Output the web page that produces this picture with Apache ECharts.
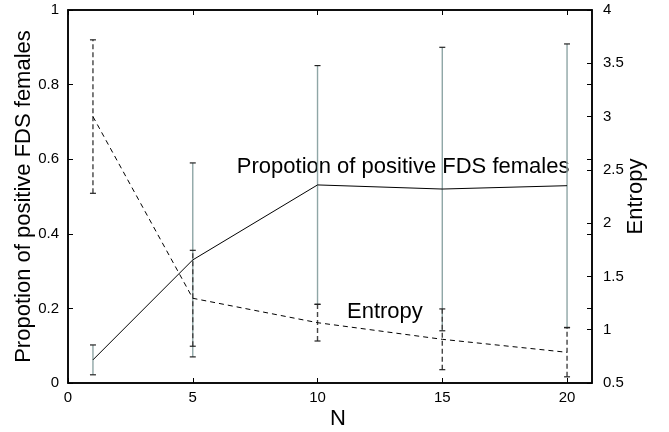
<!DOCTYPE html>
<html><head><meta charset="utf-8">
<script src="https://cdn.jsdelivr.net/npm/echarts@6/dist/echarts.min.js"></script>
<style>html,body{margin:0;padding:0;background:#fff}#c{width:669px;height:432px}</style>
</head><body><div id="c"></div>
<script>
const nValues = [1, 5, 10, 15, 20];
const proportion = [0.062, 0.33, 0.531, 0.52, 0.529];
const proportionErr = [0.04, 0.26, 0.32, 0.38, 0.38];
const entropy = [3.0, 1.295, 1.066, 0.91, 0.788];
const entropyErr = [0.72, 0.45, 0.172, 0.285, 0.23];
const xTicks = [0, 5, 10, 15, 20];

const FONT = 'Liberation Sans, Arial, sans-serif';
const chart = echarts.init(document.getElementById('c'), null, {renderer: 'canvas'});

function errData(vals, errs) {
  return nValues.map((n, i) => [n, vals[i] - errs[i], vals[i] + errs[i]]);
}
function errRender(color, dashed) {
  return function (params, api) {
    const x = api.value(0);
    const lo = api.coord([x, api.value(1)]);
    const hi = api.coord([x, api.value(2)]);
    const cw = 3;
    const st = {stroke: color, lineWidth: 1.4, lineDash: dashed ? [5, 3] : null};
    const cap = {stroke: '#222', lineWidth: 1.2};
    return {type: 'group', children: [
      {type: 'line', shape: {x1: lo[0], y1: lo[1], x2: hi[0], y2: hi[1]}, style: st},
      {type: 'line', shape: {x1: lo[0] - cw, y1: lo[1], x2: lo[0] + cw, y2: lo[1]}, style: cap},
      {type: 'line', shape: {x1: hi[0] - cw, y1: hi[1], x2: hi[0] + cw, y2: hi[1]}, style: cap}
    ]};
  };
}

const axisLineStyle = {color: '#000', width: 1.5};
const labelStyle = {color: '#000', fontFamily: FONT, fontSize: 15};
const tick = {show: true, inside: true, length: 5, lineStyle: {color: '#000', width: 1}};

chart.setOption({
  animation: false,
  grid: {left: 68, right: 77, top: 10, bottom: 49, outerBoundsMode: 'none', containLabel: false,
         show: true, borderColor: '#000', borderWidth: 1.5, backgroundColor: 'transparent'},
  xAxis: [{
    type: 'value', min: 0, max: 21, interval: 5, position: 'bottom',
    name: 'N', nameLocation: 'middle', nameGap: 25, nameMoveOverlap: false,
    nameTextStyle: {fontFamily: FONT, fontSize: 22, color: '#000', verticalAlign: 'top', padding: [0, 0, 0, 16]},
    axisLine: {show: true, onZero: false, lineStyle: axisLineStyle},
    axisTick: {...tick, customValues: xTicks},
    axisLabel: {customValues: xTicks, margin: 7, ...labelStyle},
    splitLine: {show: false}
  }, {
    type: 'value', min: 0, max: 21, interval: 5, position: 'top',
    axisLine: {show: true, onZero: false, lineStyle: axisLineStyle},
    axisTick: {...tick, customValues: xTicks},
    axisLabel: {show: false}, splitLine: {show: false}
  }],
  yAxis: [{
    type: 'value', min: 0, max: 1, interval: 0.2, position: 'left',
    name: 'Propotion of positive FDS females', nameLocation: 'middle', nameGap: 33, nameMoveOverlap: false,
    nameTextStyle: {fontFamily: FONT, fontSize: 22, color: '#000'},
    axisLine: {show: true, onZero: false, lineStyle: axisLineStyle},
    axisTick: tick,
    axisLabel: {margin: 9, padding: [8, 0, 0, 0], ...labelStyle},
    splitLine: {show: false}
  }, {
    type: 'value', min: 0.5, max: 4, interval: 0.5, position: 'right',
    name: 'Entropy', nameLocation: 'middle', nameGap: 33, nameMoveOverlap: false,
    nameTextStyle: {fontFamily: FONT, fontSize: 22, color: '#000'},
    axisLine: {show: true, onZero: false, lineStyle: axisLineStyle},
    axisTick: tick,
    axisLabel: {margin: 11, ...labelStyle},
    splitLine: {show: false}
  }, {
    type: 'value', min: 0, max: 1, interval: 0.2, position: 'right',
    axisLine: {show: false, onZero: false},
    axisTick: tick,
    axisLabel: {show: false}, splitLine: {show: false}
  }],
  series: [
    {type: 'custom', xAxisIndex: 0, yAxisIndex: 0, renderItem: errRender('#8fa6a6', false),
     data: errData(proportion, proportionErr), z: 2},
    {type: 'custom', xAxisIndex: 0, yAxisIndex: 1, renderItem: errRender('#444', true),
     data: errData(entropy, entropyErr), z: 3},
    {type: 'line', xAxisIndex: 0, yAxisIndex: 0, data: nValues.map((n, i) => [n, proportion[i]]),
     showSymbol: false, lineStyle: {color: '#000', width: 1}, z: 4},
    {type: 'line', xAxisIndex: 0, yAxisIndex: 1, data: nValues.map((n, i) => [n, entropy[i]]),
     showSymbol: false, lineStyle: {color: '#000', width: 1, type: [5, 4]}, z: 4}
  ]
});

const p1 = chart.convertToPixel({xAxisIndex: 0, yAxisIndex: 0}, [13.43, 0.58]);
const p2 = chart.convertToPixel({xAxisIndex: 0, yAxisIndex: 0}, [12.7, 0.19]);
chart.setOption({graphic: [
  {type: 'text', x: p1[0], y: p1[1], style: {text: 'Propotion of positive FDS females', fontFamily: FONT, fontSize: 22, fill: '#000', align: 'center', verticalAlign: 'middle'}},
  {type: 'text', x: p2[0], y: p2[1], style: {text: 'Entropy', fontFamily: FONT, fontSize: 22, fill: '#000', align: 'center', verticalAlign: 'middle'}}
]});
</script></body></html>
